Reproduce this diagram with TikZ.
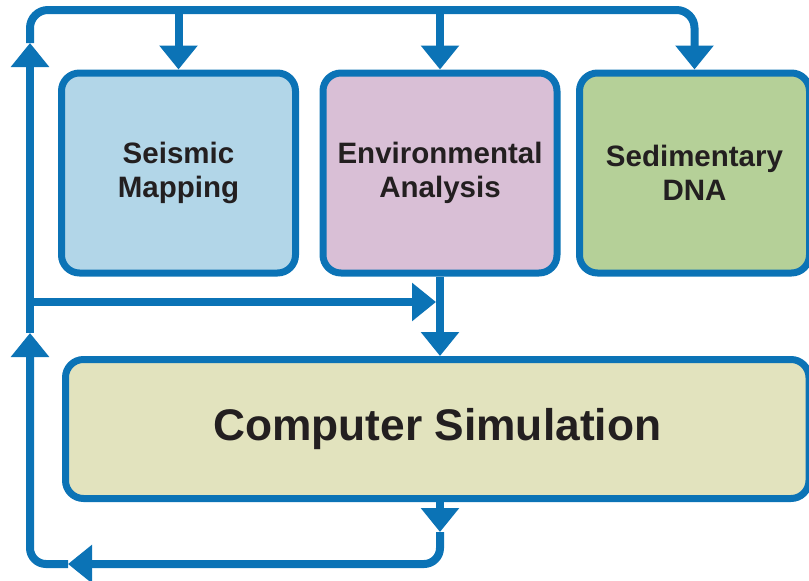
\documentclass[tikz,border=0pt]{standalone}
\usepackage{fontspec}
\setmainfont{Liberation Sans}
\usetikzlibrary{arrows.meta}
\definecolor{lineblue}{RGB}{11,115,182}
\definecolor{seisfill}{RGB}{178,214,232}
\definecolor{envfill}{RGB}{217,191,214}
\definecolor{sedfill}{RGB}{181,208,152}
\definecolor{csfill}{RGB}{226,227,190}
\definecolor{txt}{RGB}{35,31,32}
\begin{document}
\begin{tikzpicture}[x=1pt,y=-1pt,
  box/.style={draw=lineblue, line width=7pt, rounded corners=18pt, inner sep=0pt,
    minimum width=234pt, minimum height=200pt, align=center, text=txt,
    font=\fontsize{29.5}{34.5}\selectfont\bfseries},
  conn/.style={draw=lineblue, line width=8pt},
  tip/.style={-{Triangle[length=24pt,width=37pt]}},
]
\useasboundingbox (0,0) rectangle (809,581);
\node[box, fill=seisfill] (seis) at (178.5,173) {Seismic\\Mapping};
\node[box, fill=envfill] (env) at (440,173) {Environmental\\Analysis};
\node[box, fill=sedfill, minimum width=230pt] (sed) at (694.5,173) {Sedimentary\\DNA};
\node[box, fill=csfill, minimum width=743.5pt, minimum height=139pt,
  font=\fontsize{44.3}{48}\selectfont\bfseries] (cs) at (437.25,429) {Computer Simulation};

\coordinate (tl) at (30,10);
\coordinate (bl) at (30,564);
\coordinate (a1) at (440,532);
\coordinate (a2) at (68,564);
\coordinate (a3) at (30,333);
\coordinate (a4) at (30,43);
\coordinate (h1) at (30,302);
\coordinate (h2) at (436,302);

\draw[conn,tip] (env.south |- cs.south) -- (a1);
\draw[conn,tip,rounded corners=16pt] (a1) -- (a1 |- bl) -- (a2);
\draw[conn,tip,rounded corners=16pt] (a2) -- (bl) -- (a3);
\draw[conn,tip] (a3) -- (a4);
\draw[conn,tip,rounded corners=18pt] (a4) -- (tl) -- (tl -| sed.north) -- (sed.north);
\draw[conn,tip] (tl -| seis.north) -- (seis.north);
\draw[conn,tip] (tl -| env.north) -- (env.north);
\draw[conn,tip] (h1) -- (h2);
\draw[conn,tip] (env.south) -- (env.south |- cs.north);
\end{tikzpicture}
\end{document}
